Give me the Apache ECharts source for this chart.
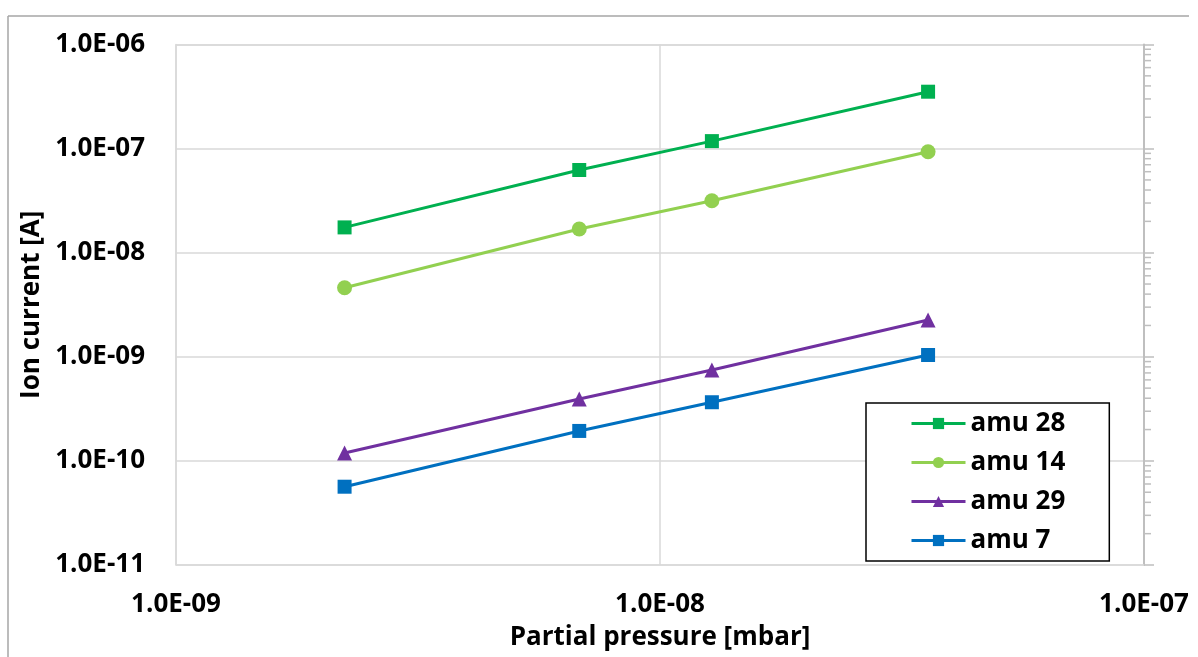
<!DOCTYPE html>
<html>
<head>
<meta charset="utf-8">
<script src="https://cdn.jsdelivr.net/npm/echarts@6/dist/echarts.min.js"></script>
<style>
html,body{margin:0;padding:0;background:#fff;}
#chart{width:1198px;height:657px;}
</style>
</head>
<body>
<div id="chart"></div>
<script>
// ---- Data ----
const pressure = [2.23e-9, 6.81e-9, 1.28e-8, 3.58e-8];
const seriesNames = ['amu 28', 'amu 14', 'amu 29', 'amu 7'];
const amu28 = [1.75e-8, 6.23e-8, 1.18e-7, 3.52e-7];
const amu14 = [4.61e-9, 1.69e-8, 3.16e-8, 9.34e-8];
const amu29 = [1.19e-10, 3.93e-10, 7.47e-10, 2.26e-9];
const amu7 = [5.65e-11, 1.94e-10, 3.66e-10, 1.04e-9];
const xTickLabels = ['1.0E-09', '1.0E-08', '1.0E-07'];
const yTickLabels = ['1.0E-11', '1.0E-10', '1.0E-09', '1.0E-08', '1.0E-07', '1.0E-06'];
const xMin = 1e-9, xMax = 1e-7, yMin = 1e-11, yMax = 1e-6;
const minorMultipliers = [2, 3, 4, 5, 6, 7, 8, 9];
const minorDecades = [1e-11, 1e-10, 1e-9, 1e-8, 1e-7];

const FONT = 'Open Sans';
const FS = 26;

function pairs(ys) { return pressure.map((x, i) => [x, ys[i]]); }
function expIndex(v, base) { return Math.round(Math.log10(v) - Math.log10(base)); }

const minorTicks = [];
minorDecades.forEach(d => minorMultipliers.forEach(m => minorTicks.push([xMax, m * d])));

const chart = echarts.init(document.getElementById('chart'), null, {renderer: 'canvas'});

const lineSeries = (name, data, color, symbol, size) => ({
  name, type: 'line', data: pairs(data),
  symbol, symbolSize: size,
  lineStyle: {color, width: 3},
  itemStyle: {color},
  z: 5
});

chart.setOption({
  backgroundColor: '#fff',
  animation: false,
  graphic: [
    {type: 'line', shape: {x1: 8, y1: 16, x2: 1189, y2: 16}, style: {stroke: '#a6a6a6', lineWidth: 1.5}, silent: true},
    {type: 'line', shape: {x1: 8, y1: 16, x2: 8, y2: 657}, style: {stroke: '#a6a6a6', lineWidth: 1.5}, silent: true}
  ],
  grid: {left: 176, right: 54, top: 44.5, bottom: 92},
  xAxis: {
    type: 'log', logBase: 10, min: xMin, max: xMax, splitNumber: 2,
    name: 'Partial pressure [mbar]', nameLocation: 'middle', nameGap: 60,
    nameTextStyle: {fontFamily: FONT, fontWeight: 'bold', fontSize: FS, color: '#000'},
    axisLine: {show: true, lineStyle: {color: '#d9d9d9', width: 1.5}},
    axisTick: {show: false},
    splitLine: {show: true, lineStyle: {color: '#d9d9d9', width: 1.5}},
    axisLabel: {
      margin: 27, fontFamily: FONT, fontWeight: 'bold', fontSize: FS, color: '#000',
      formatter: v => xTickLabels[expIndex(v, xMin)] || ''
    }
  },
  yAxis: [{
    type: 'log', logBase: 10, min: yMin, max: yMax, splitNumber: 5,
    name: 'Ion current [A]', nameLocation: 'middle', nameGap: 124,
    nameTextStyle: {fontFamily: FONT, fontWeight: 'bold', fontSize: FS, color: '#000'},
    axisLine: {show: true, lineStyle: {color: '#d9d9d9', width: 1.5}},
    axisTick: {show: false},
    splitLine: {show: true, lineStyle: {color: '#d9d9d9', width: 1.5}},
    axisLabel: {
      margin: 31, fontFamily: FONT, fontWeight: 'bold', fontSize: FS, color: '#000',
      formatter: v => yTickLabels[expIndex(v, yMin)] || ''
    }
  }, {
    type: 'log', logBase: 10, min: yMin, max: yMax, splitNumber: 5, position: 'right',
    axisLine: {show: true, lineStyle: {color: '#bfbfbf', width: 2}},
    axisTick: {show: true, inside: false, length: 10, lineStyle: {color: '#bfbfbf', width: 1.5}},
    axisLabel: {show: false},
    splitLine: {show: false}
  }],
  legend: {
    data: seriesNames,
    orient: 'vertical', left: 866, top: 403,
    padding: [7, 44, 7, 44],
    borderColor: '#000', borderWidth: 1.5,
    backgroundColor: '#fff',
    itemWidth: 54, itemHeight: 14, itemGap: 12,
    lineStyle: {width: 3},
    textStyle: {fontFamily: FONT, fontWeight: 'bold', fontSize: FS, lineHeight: 27, color: '#000'}
  },
  series: [
    lineSeries('amu 28', amu28, '#00b050', 'rect', 14),
    lineSeries('amu 14', amu14, '#92d050', 'circle', 15),
    lineSeries('amu 29', amu29, '#7030a0', 'triangle', 15),
    lineSeries('amu 7', amu7, '#0070c0', 'rect', 14),
    {
      type: 'custom', name: 'minorTicks', silent: true, clip: false, z: 1,
      data: minorTicks,
      renderItem: (params, api) => {
        const p = api.coord([api.value(0), api.value(1)]);
        return {type: 'line', shape: {x1: p[0], y1: p[1], x2: p[0] + 7, y2: p[1]},
                style: {stroke: '#bfbfbf', lineWidth: 1.5}};
      }
    }
  ]
});
</script>
</body>
</html>
